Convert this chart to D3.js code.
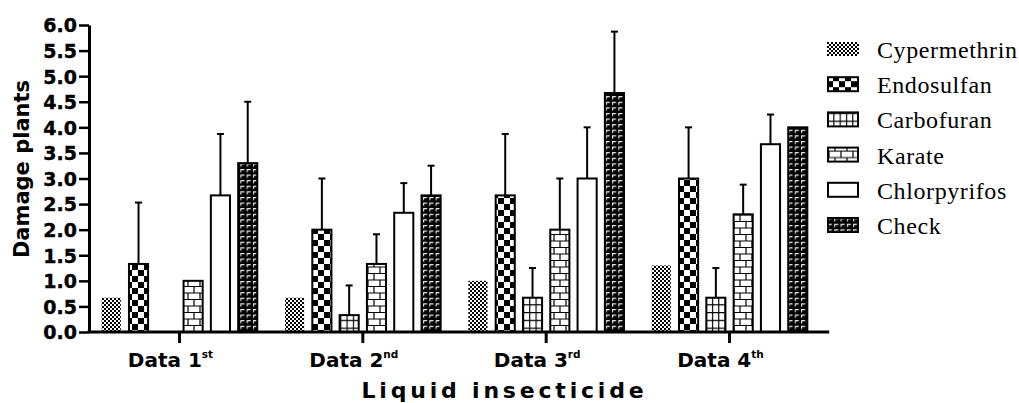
<!DOCTYPE html>
<html><head><meta charset="utf-8">
<script src="https://cdn.jsdelivr.net/npm/d3@7"></script>
<style>body{margin:0;background:#fff}svg{display:block}</style>
</head><body><svg id="c" width="1019" height="403"></svg>
<script>
// ---- data ----
const categories = ["Data 1", "Data 2", "Data 3", "Data 4"];
const superscripts = ["st", "nd", "rd", "th"];
const seriesNames = ["Cypermethrin", "Endosulfan", "Carbofuran", "Karate", "Chlorpyrifos", "Check"];
const cypermethrin = [0.67, 0.67, 1.0, 1.3];
const endosulfan   = [1.33, 2.0, 2.67, 3.0];
const carbofuran   = [0.0, 0.33, 0.67, 0.67];
const karate       = [1.0, 1.33, 2.0, 2.3];
const chlorpyrifos = [2.67, 2.33, 3.0, 3.67];
const check        = [3.3, 2.67, 4.67, 4.0];
const cypermethrinErr = [0, 0, 0, 0];
const endosulfanErr   = [1.2, 1.0, 1.2, 1.0];
const carbofuranErr   = [0, 0.58, 0.58, 0.58];
const karateErr       = [0, 0.58, 1.0, 0.58];
const chlorpyrifosErr = [1.2, 0.58, 1.0, 0.58];
const checkErr        = [1.2, 0.58, 1.2, 0];
const yTicks = [0, 0.5, 1, 1.5, 2, 2.5, 3, 3.5, 4, 4.5, 5, 5.5, 6];
const yTitle = "Damage plants";
const xTitle = "Liquid insecticide";

const values = [cypermethrin, endosulfan, carbofuran, karate, chlorpyrifos, check];
const errors = [cypermethrinErr, endosulfanErr, carbofuranErr, karateErr, chlorpyrifosErr, checkErr];

// ---- layout ----
const svg = d3.select("#c");
const axisX = 89, axisY0 = 332, axisYTop = 25;
const y = d3.scaleLinear().domain([0, 6]).range([axisY0, axisYTop]);
const x0 = d3.scaleBand().domain(categories).range([87.8, 821.2]).padding(0);
const half = 81.9;
const x1 = d3.scaleBand().domain(seriesNames)
  .range([x0.bandwidth() / 2 - half, x0.bandwidth() / 2 + half])
  .paddingInner(0.3).paddingOuter(0.15);

// ---- patterns ----
const defs = svg.append("defs");
function pat(id, w, h) {
  return defs.append("pattern").attr("id", id).attr("patternUnits", "userSpaceOnUse")
    .attr("width", w).attr("height", h);
}
let p = pat("pCyp", 4, 4);
p.append("rect").attr("width", 4).attr("height", 4).attr("fill", "#fff");
p.append("rect").attr("width", 2).attr("height", 2).attr("fill", "#000");
p.append("rect").attr("x", 2).attr("y", 2).attr("width", 2).attr("height", 2).attr("fill", "#000");
p = pat("pEndo", 12, 12);
p.append("rect").attr("width", 12).attr("height", 12).attr("fill", "#fff");
p.append("rect").attr("width", 6).attr("height", 6).attr("fill", "#000");
p.append("rect").attr("x", 6).attr("y", 6).attr("width", 6).attr("height", 6).attr("fill", "#000");
p = pat("pCarb", 6.3, 7.8);
p.append("rect").attr("width", 6.3).attr("height", 7.8).attr("fill", "#fff");
p.append("path").attr("d", "M0,0.5H6.3M0.5,0V7.8").attr("stroke", "#000").attr("stroke-width", 1.3);
p = pat("pKar", 12, 13);
p.append("rect").attr("width", 12).attr("height", 13).attr("fill", "#fff");
p.append("path").attr("d", "M0,0.5H12M0,7H12M2,0V6.5M8,6.5V13").attr("stroke", "#000").attr("stroke-width", 1.2);
p = pat("pCheck", 6.3, 5.6);
p.append("rect").attr("width", 6.3).attr("height", 5.6).attr("fill", "#000");
p.append("path").attr("d", "M1.5,1.5H5M1.5,1V4.2").attr("stroke", "#fff").attr("stroke-width", 1);

const fills = ["url(#pCyp)", "url(#pEndo)", "url(#pCarb)", "url(#pKar)", "#fff", "url(#pCheck)"];
const strokes = ["none", "#000", "#000", "#000", "#000", "#000"];

// ---- bars ----
const rows = [];
categories.forEach((c, i) => seriesNames.forEach((s, j) => {
  rows.push({ c, s, j, v: values[j][i], e: errors[j][i] });
}));

const g = svg.append("g");
g.selectAll("rect.bar").data(rows.filter(d => d.v > 0)).join("rect")
  .attr("class", "bar")
  .attr("x", d => x0(d.c) + x1(d.s))
  .attr("y", d => y(d.v))
  .attr("width", x1.bandwidth())
  .attr("height", d => y(0) - y(d.v))
  .attr("fill", d => fills[d.j])
  .attr("stroke", d => strokes[d.j])
  .attr("stroke-width", 2);

const eb = g.selectAll("g.err").data(rows.filter(d => d.e > 0)).join("g").attr("class", "err");
eb.append("line")
  .attr("x1", d => x0(d.c) + x1(d.s) + x1.bandwidth() / 2)
  .attr("x2", d => x0(d.c) + x1(d.s) + x1.bandwidth() / 2)
  .attr("y1", d => y(d.v)).attr("y2", d => y(d.v + d.e))
  .attr("stroke", "#000").attr("stroke-width", 2);
eb.append("line")
  .attr("x1", d => x0(d.c) + x1(d.s) + x1.bandwidth() / 2 - 3.5)
  .attr("x2", d => x0(d.c) + x1(d.s) + x1.bandwidth() / 2 + 3.5)
  .attr("y1", d => y(d.v + d.e)).attr("y2", d => y(d.v + d.e))
  .attr("stroke", "#000").attr("stroke-width", 2);

// ---- y axis ----
const ya = svg.append("g").attr("transform", `translate(${axisX},0)`)
  .call(d3.axisLeft(y).tickValues(yTicks).tickFormat(d3.format(".1f")).tickSize(10).tickSizeOuter(0).tickPadding(2));
ya.select(".domain").attr("stroke-width", 3);
ya.selectAll(".tick line").attr("stroke-width", 2.5);
ya.selectAll(".tick text").attr("font-family", "DejaVu Sans").attr("font-weight", "bold")
  .attr("font-size", 19).attr("fill", "#000").attr("dy", "0.36em")
  .attr("stroke", "#000").attr("stroke-width", 0.4);

// ---- x axis ----
const xa = svg.append("g");
xa.append("line").attr("x1", axisX - 1.5).attr("x2", x0.range()[1] + 8)
  .attr("y1", y(0)).attr("y2", y(0)).attr("stroke", "#000").attr("stroke-width", 3);
xa.selectAll("line.tk").data(categories).join("line").attr("class", "tk")
  .attr("x1", d => x0(d) + x0.bandwidth() / 2).attr("x2", d => x0(d) + x0.bandwidth() / 2)
  .attr("y1", y(0)).attr("y2", y(0) + 11).attr("stroke", "#000").attr("stroke-width", 3);
const lbl = xa.selectAll("text.cat").data(categories).join("text").attr("class", "cat")
  .attr("x", d => x0(d) + x0.bandwidth() / 2 - 9).attr("y", 367)
  .attr("text-anchor", "middle").attr("font-family", "DejaVu Sans").attr("font-weight", "bold")
  .attr("font-size", 20).attr("fill", "#000");
lbl.append("tspan").text(d => d);
lbl.append("tspan").attr("font-size", 10.5).attr("dy", -9).text((d, i) => superscripts[i]);

// titles
svg.append("text").attr("x", x0.range()[0] + (x0.range()[1] - x0.range()[0]) / 2 + 50).attr("y", 398)
  .attr("text-anchor", "middle").attr("font-family", "DejaVu Sans").attr("font-weight", "bold")
  .attr("font-size", 22).attr("letter-spacing", 3.8).attr("fill", "#000").text(xTitle);
svg.append("text").attr("transform", "translate(29,169) rotate(-90)")
  .attr("text-anchor", "middle").attr("font-family", "DejaVu Sans").attr("font-weight", "bold")
  .attr("font-size", 21).attr("fill", "#000").text(yTitle);

// ---- legend ----
const leg = svg.append("g").attr("transform", "translate(827,58)");
const li = leg.selectAll("g").data(seriesNames).join("g")
  .attr("transform", (d, i) => `translate(0,${i * 35.2})`);
li.append("rect").attr("x", (d, i) => i === 0 ? 0 : 1).attr("y", -16)
  .attr("width", (d, i) => i === 0 ? 32 : 30).attr("height", 14)
  .attr("fill", (d, i) => fills[i]).attr("stroke", (d, i) => strokes[i]).attr("stroke-width", 2);
li.append("text").attr("x", 50).attr("y", 0)
  .attr("font-family", "Liberation Serif").attr("font-size", 24).attr("letter-spacing", 0.6)
  .attr("fill", "#000").text(d => d);
</script></body></html>
